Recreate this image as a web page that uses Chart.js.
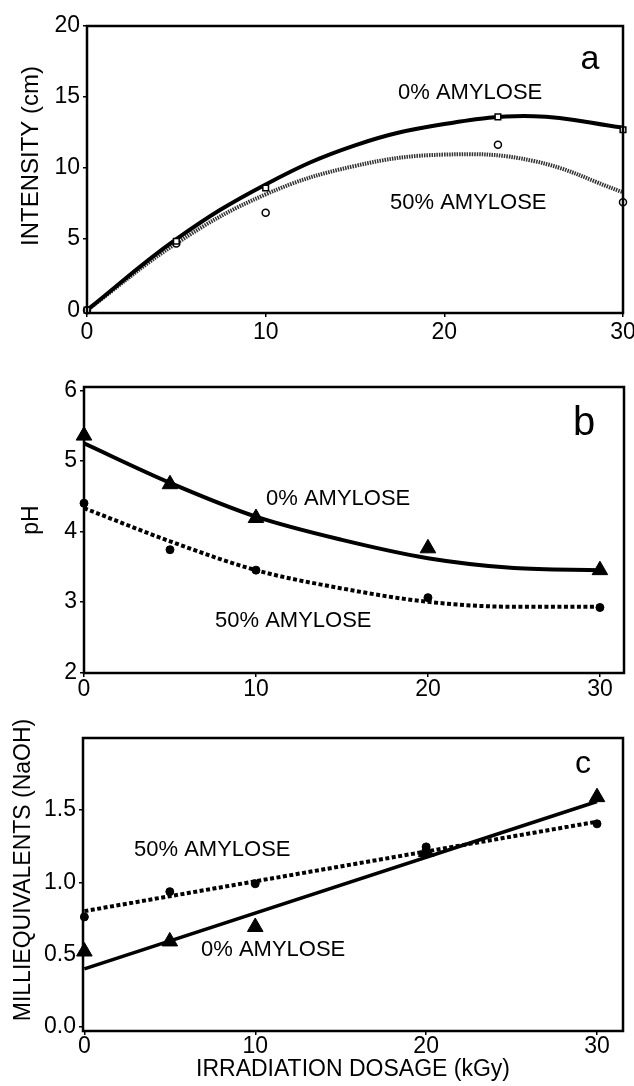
<!DOCTYPE html>
<html>
<head>
<meta charset="utf-8">
<script src="https://cdn.jsdelivr.net/npm/chart.js@4.4.0/dist/chart.umd.min.js"></script>
<style>
  html, body { margin: 0; padding: 0; background: #fff; }
  body { width: 634px; height: 1086px; position: relative; overflow: hidden; }
  .panel { position: absolute; left: 0; width: 634px; }
</style>
</head>
<body>
<div class="panel" style="top:0;height:350px"><canvas id="chartA"></canvas></div>
<div class="panel" style="top:350px;height:355px"><canvas id="chartB"></canvas></div>
<div class="panel" style="top:705px;height:381px"><canvas id="chartC"></canvas></div>
<script>
// --- panel a: intensity ---
const doseA = [0, 5, 10, 23, 30];
const intensity0 = [0, 4.85, 8.6, 13.6, 12.7];
const intensity50 = [0, 4.7, 6.85, 11.65, 7.6];
const fitDose = [0, 5, 10, 15, 20, 25, 30];
const intensityFit0 = [0, 5.0, 8.85, 11.6, 13.1, 13.65, 12.85];
const intensityFit50 = [0, 4.7, 8.15, 10.15, 10.95, 10.5, 8.3];

// --- panel b: pH ---
const doseBC = [0, 5, 10, 20, 30];
const ph0 = [5.36, 4.67, 4.19, 3.76, 3.45];
const ph50 = [4.40, 3.74, 3.45, 3.06, 2.92];
const phFit0 = [5.25, 4.69, 4.21, 3.88, 3.62, 3.48, 3.45];
const phFit50 = [4.33, 3.86, 3.45, 3.19, 3.0, 2.93, 2.93];

// --- panel c: milliequivalents NaOH ---
const meq0 = [0.52, 0.59, 0.69, 1.21, 1.59];
const meq50 = [0.76, 0.935, 0.99, 1.245, 1.405];
const lineDose = [0, 30];
const meqFit0 = [0.40, 1.56];
const meqFit50 = [0.80, 1.42];

// tick labels
const xTicks = [0, 10, 20, 30];
const yTicksA = [0, 5, 10, 15, 20];
const yTicksB = [2, 3, 4, 5, 6];
const yTicksC = [0, 0.5, 1.0, 1.5];

const FONT = "'Liberation Sans', Arial, sans-serif";

// pair x and y arrays into {x, y} points
const pts = (xs, ys) => xs.map((x, i) => ({ x: x, y: ys[i] }));

// draws the closed box around the plot area
const frame = {
  id: 'frame',
  afterDraw(chart) {
    const { ctx, chartArea: a } = chart;
    ctx.save();
    ctx.strokeStyle = '#000';
    ctx.lineWidth = 2.5;
    ctx.strokeRect(a.left, a.top, a.right - a.left, a.bottom - a.top);
    ctx.restore();
  }
};

// free text: panel letter, series labels, rotated y titles
const panelText = {
  id: 'panelText',
  afterDraw(chart, args, opts) {
    const ctx = chart.ctx;
    (opts.items || []).forEach(t => {
      ctx.save();
      ctx.font = t.font || ('22px ' + FONT);
      ctx.fillStyle = '#000';
      ctx.textAlign = t.align || 'left';
      ctx.textBaseline = t.baseline || 'alphabetic';
      ctx.translate(t.x, t.y);
      if (t.rotate) ctx.rotate(t.rotate);
      ctx.fillText(t.text, 0, 0);
      ctx.restore();
    });
  }
};

function pointSet(data, style, radius, fill, border) {
  return {
    data: data, showLine: false, pointStyle: style, pointRadius: radius,
    pointBackgroundColor: fill, pointBorderColor: '#000', pointBorderWidth: border,
    clip: false
  };
}

// smooth fitted curve; 'tension' gives a plain bezier, otherwise monotone
function curveSet(data, width, dash, color, tension) {
  const ds = {
    data: data, pointRadius: 0, borderColor: color || '#000', borderWidth: width,
    borderDash: dash, fill: false
  };
  if (tension) ds.tension = tension;
  else ds.cubicInterpolationMode = 'monotone';
  return ds;
}

function makePanel(id, cfg) {
  const tickFont = { family: FONT, size: 23, lineHeight: 1 };
  return new Chart(document.getElementById(id), {
    type: 'line',
    data: { datasets: cfg.datasets },
    options: {
      responsive: true,
      maintainAspectRatio: false,
      animation: false,
      layout: { padding: cfg.padding },
      plugins: {
        legend: { display: false },
        tooltip: { enabled: false },
        panelText: { items: cfg.texts }
      },
      scales: {
        x: {
          type: 'linear', min: cfg.xMin, max: cfg.xMax,
          afterBuildTicks: s => { s.ticks = xTicks.map(v => ({ value: v })); },
          afterFit: s => { s.height = cfg.xHeight; s.paddingLeft = 0; s.paddingRight = 0; },
          grid: { drawOnChartArea: false, drawTicks: true, tickLength: 4, color: '#000', lineWidth: 1.5 },
          border: { display: false },
          ticks: { color: '#000', font: tickFont, padding: cfg.xPad, maxRotation: 0 },
          title: cfg.xTitle ? {
            display: true, text: cfg.xTitle, color: '#000',
            font: { family: FONT, size: 23 }, padding: { top: 0, bottom: 3 }
          } : { display: false }
        },
        y: {
          type: 'linear', min: cfg.yMin, max: cfg.yMax,
          afterBuildTicks: s => { s.ticks = cfg.yTicks.map(v => ({ value: v })); },
          afterFit: s => { s.width = cfg.yWidth; s.paddingTop = 0; s.paddingBottom = 0; },
          grid: { drawOnChartArea: false, drawTicks: true, tickLength: 4, color: '#000', lineWidth: 1.5 },
          border: { display: false },
          ticks: { color: '#000', font: tickFont, padding: 3, callback: cfg.yFormat }
        }
      }
    },
    plugins: [frame, panelText]
  });
}

// panel a
makePanel('chartA', {
  datasets: [
    pointSet(pts(doseA, intensity0), 'rect', 4, '#fff', 1.5),
    pointSet(pts(doseA, intensity50), 'circle', 3.5, '#fff', 1.5),
    curveSet(pts(fitDose, intensityFit0), 4, [], '#000', 0.4),
    curveSet(pts(fitDose, intensityFit50), 4, [1.5, 1], '#333', 0.4)
  ],
  padding: { left: 0, top: 26, right: 11, bottom: 0 },
  xMin: 0, xMax: 30, yMin: -0.2, yMax: 20,
  yTicks: yTicksA, yWidth: 87, xHeight: 37, xPad: 4,
  yFormat: v => String(v),
  texts: [
    { text: 'a', x: 590, y: 69, align: 'center', font: '34px ' + FONT },
    { text: '0% AMYLOSE', x: 398, y: 99 },
    { text: '50% AMYLOSE', x: 390, y: 209 },
    { text: 'INTENSITY (cm)', x: 31, y: 156, align: 'center', baseline: 'middle',
      rotate: -Math.PI / 2, font: '24px ' + FONT }
  ]
});

// panel b
makePanel('chartB', {
  datasets: [
    pointSet(pts(doseBC, ph0), 'triangle', 9, '#000', 1),
    pointSet(pts(doseBC, ph50), 'circle', 4, '#000', 1),
    curveSet(pts(fitDose, phFit0), 4),
    curveSet(pts(fitDose, phFit50), 4, [4, 2.5])
  ],
  padding: { left: 0, top: 37, right: 9, bottom: 0 },
  xMin: 0, xMax: 31.4, yMin: 1.99, yMax: 6.05,
  yTicks: yTicksB, yWidth: 84, xHeight: 32, xPad: 1.5,
  yFormat: v => String(v),
  texts: [
    { text: 'b', x: 584, y: 85, align: 'center', font: '40px ' + FONT },
    { text: '0% AMYLOSE', x: 266, y: 155 },
    { text: '50% AMYLOSE', x: 215, y: 277 },
    { text: 'pH', x: 32, y: 170, align: 'center', baseline: 'middle',
      rotate: -Math.PI / 2, font: '23px ' + FONT }
  ]
});

// panel c
makePanel('chartC', {
  datasets: [
    pointSet(pts(doseBC, meq0), 'triangle', 9, '#000', 1),
    pointSet(pts(doseBC, meq50), 'circle', 4, '#000', 1),
    curveSet(pts(lineDose, meqFit0), 3.5),
    curveSet(pts(lineDose, meqFit50), 4, [4, 2.5])
  ],
  padding: { left: 0, top: 33, right: 11, bottom: 0 },
  xMin: -0.08, xMax: 31.52, yMin: -0.031, yMax: 2.0,
  yTicks: yTicksC, yWidth: 83, xHeight: 55, xPad: 0,
  yFormat: v => v.toFixed(1),
  xTitle: 'IRRADIATION DOSAGE (kGy)',
  texts: [
    { text: 'c', x: 583, y: 68, align: 'center', font: '32px ' + FONT },
    { text: '50% AMYLOSE', x: 134, y: 151 },
    { text: '0% AMYLOSE', x: 201, y: 251 },
    { text: 'MILLIEQUIVALENTS (NaOH)', x: 24, y: 165, align: 'center', baseline: 'middle',
      rotate: -Math.PI / 2, font: '23px ' + FONT }
  ]
});
</script>
</body>
</html>
